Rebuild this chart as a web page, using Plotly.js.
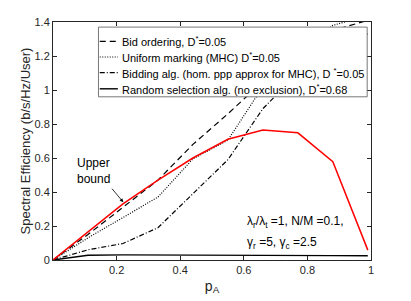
<!DOCTYPE html>
<html>
<head>
<meta charset="utf-8">
<script src="https://cdn.plot.ly/plotly-3.0.1.min.js"></script>
<style>html,body{margin:0;padding:0;background:#fff;}#chart{width:411px;height:301px;}</style>
</head>
<body>
<div id="chart"></div>
<script>
// ---- data ----
var pA = [0, 0.11, 0.22, 0.33, 0.44, 0.55, 0.66, 0.77, 0.88, 0.99];
var upperBound     = [0, 0.165, 0.33, 0.47, 0.60, 0.71, 0.765, 0.748, 0.578, 0.058];
var bidOrdering    = [0, 0.15, 0.31, 0.47, 0.68, 0.86, 1.05, 1.22, 1.35, 1.41];
var uniformMarking = [0, 0.13, 0.25, 0.37, 0.595, 0.705, 1.02, 1.22, 1.38, 1.44];
var biddingAlg     = [0, 0.06, 0.097, 0.19, 0.39, 0.59, 0.89, 1.10, 1.25, 1.33];
var randomSel      = [0, 0.028, 0.03, 0.03, 0.029, 0.028, 0.027, 0.026, 0.026, 0.025];

var seriesNames = [
  'Bid ordering, D<sup>*</sup>=0.05',
  'Uniform marking (MHC) D<sup>*</sup>=0.05',
  'Bidding alg. (hom. ppp approx for MHC), D <sup>*</sup>=0.05',
  'Random selection alg. (no exclusion), D<sup>*</sup>=0.68'
];
var xTicks = [0.2, 0.4, 0.6, 0.8, 1];
var xTickText = ['0.2', '0.4', '0.6', '0.8', '1'];
var yTicks = [0, 0.2, 0.4, 0.6, 0.8, 1, 1.2, 1.4];
var yTickText = ['0', '0.2', '0.4', '0.6', '0.8', '1', '1.2', '1.4'];

// ---- styles ----
var FONT = 'Liberation Sans, Arial, Helvetica, sans-serif';
var INK = '#262626';
var dashStyles = ['6px,4px', '1px,1.5px', '5px,2px,1px,2px', 'solid'];
var blackSeries = [bidOrdering, uniformMarking, biddingAlg, randomSel];
var blackWidths = [1.2, 1.2, 1.2, 1.4];

var traces = blackSeries.map(function (ys, i) {
  return {
    x: pA, y: ys, type: 'scatter', mode: 'lines', name: seriesNames[i],
    line: {color: '#000', width: blackWidths[i], dash: dashStyles[i]},
    showlegend: false
  };
});
traces.push({
  x: pA, y: upperBound, type: 'scatter', mode: 'lines', name: 'Upper bound',
  line: {color: '#ff0000', width: 1.5}, showlegend: false
});

// ---- manual legend (box + samples + labels), in axis coordinates ----
var leg = {x0: 0.143, x1: 0.988, y0: 0.96, y1: 1.370,
           rows: [1.2855, 1.194, 1.102, 1.007],
           sx0: 0.147, sx1: 0.204, tx: 0.210};
var shapes = [{
  type: 'rect', xref: 'x', yref: 'y', layer: 'above',
  x0: leg.x0, x1: leg.x1, y0: leg.y0, y1: leg.y1,
  fillcolor: '#fff', line: {color: '#555', width: 0.8}
}];
var annotations = [];
leg.rows.forEach(function (ry, i) {
  shapes.push({
    type: 'line', xref: 'x', yref: 'y', layer: 'above',
    x0: leg.sx0, x1: leg.sx1, y0: ry, y1: ry,
    line: {color: '#000', width: blackWidths[i], dash: dashStyles[i]}
  });
  annotations.push({
    xref: 'x', yref: 'y', x: leg.tx, y: ry, xanchor: 'left', yanchor: 'middle',
    text: seriesNames[i], showarrow: false,
    font: {family: FONT, size: 11, color: '#000'}
  });
});

annotations.push({
  xref: 'x', yref: 'y', x: 0.068, y: 0.526, xanchor: 'left', yanchor: 'middle',
  align: 'left', text: 'Upper<br>bound', showarrow: false,
  font: {family: FONT, size: 12, color: '#000'}
});
annotations.push({
  xref: 'x', yref: 'y', x: 0.221, y: 0.34, text: '', showarrow: true,
  ax: -12.5, ay: -15, arrowhead: 2, arrowsize: 0.9, arrowwidth: 0.8, arrowcolor: '#000'
});
annotations.push({
  xref: 'x', yref: 'y', x: 0.605, y: 0.221, xanchor: 'left', yanchor: 'middle',
  text: '\u03bb<sub>r</sub>/\u03bb<sub>t</sub> =1, N/M =0.1,', showarrow: false,
  font: {family: FONT, size: 12, color: '#000'}
});
annotations.push({
  xref: 'x', yref: 'y', x: 0.605, y: 0.099, xanchor: 'left', yanchor: 'middle',
  text: '\u03b3<sub>r</sub> =5, \u03b3<sub>c</sub> =2.5', showarrow: false,
  font: {family: FONT, size: 12, color: '#000'}
});

var axisCommon = {
  showline: true, linecolor: INK, linewidth: 1, mirror: 'ticks',
  ticks: 'inside', ticklen: 4, tickwidth: 1, tickcolor: INK,
  showgrid: false, zeroline: false,
  tickfont: {family: FONT, size: 11, color: INK}
};

var layout = {
  width: 411, height: 301,
  margin: {l: 53, r: 40, t: 22, b: 41, pad: 0},
  paper_bgcolor: '#fff', plot_bgcolor: '#fff',
  showlegend: false,
  xaxis: Object.assign({}, axisCommon, {
    range: [0, 1], tickvals: xTicks, ticktext: xTickText,
    title: {text: 'p<sub>A</sub>', font: {family: FONT, size: 14, color: INK}, standoff: 5}
  }),
  yaxis: Object.assign({}, axisCommon, {
    range: [0, 1.4], tickvals: yTicks, ticktext: yTickText,
    title: {text: 'Spectral Efficiency (b/s/Hz/User)', font: {family: FONT, size: 13, color: INK}, standoff: 0}
  }),
  shapes: shapes,
  annotations: annotations
};

Plotly.newPlot('chart', traces, layout, {staticPlot: true, displayModeBar: false});
</script>
</body>
</html>
